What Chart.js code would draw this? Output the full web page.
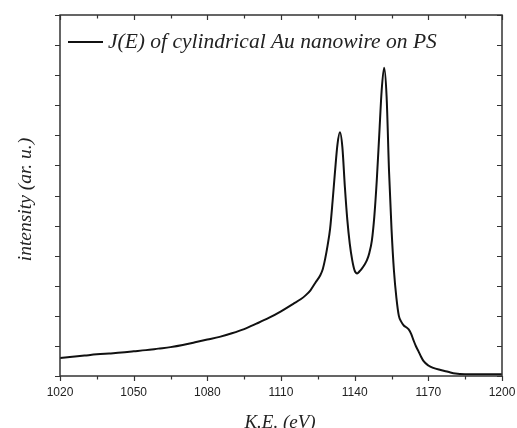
<!DOCTYPE html>
<html>
<head>
<meta charset="utf-8">
<script src="https://cdn.jsdelivr.net/npm/chart.js@4/dist/chart.umd.min.js"></script>
<style>
html,body{margin:0;padding:0;background:#fff;}
#wrap{width:517px;height:428px;position:relative;}
</style>
</head>
<body>
<div id="wrap"><canvas id="c" width="517" height="428"></canvas></div>
<script>
// Kinetic energy (eV)
const energy = [1020,1025,1030,1035,1040,1045,1050,1055,1060,1065,1070,1075,1080,1085,1090,1095,1100,1105,1110,1115,1118,1120,1122,1124,1126,1127,1128,1129,1130,1131,1132,1133,1134,1135,1136,1137,1138,1139,1140,1141,1142,1143,1144,1145,1146,1147,1148,1149,1150,1151,1152,1153,1154,1155,1156,1157,1158,1159,1160,1161,1162,1163,1164,1165,1166,1167,1168,1170,1172,1175,1178,1181,1185,1190,1195,1200];
// Intensity (arbitrary units)
const intensity = [0.60,0.64,0.68,0.72,0.75,0.78,0.82,0.86,0.91,0.96,1.03,1.12,1.21,1.30,1.42,1.56,1.74,1.93,2.15,2.40,2.55,2.68,2.85,3.10,3.35,3.55,3.90,4.35,4.90,5.80,6.80,7.70,8.10,7.60,6.30,5.20,4.40,3.85,3.50,3.41,3.48,3.58,3.70,3.85,4.10,4.50,5.30,6.50,8.00,9.50,10.25,9.30,6.80,4.90,3.50,2.60,2.00,1.80,1.68,1.62,1.55,1.40,1.18,0.98,0.82,0.65,0.50,0.35,0.27,0.20,0.14,0.08,0.06,0.06,0.06,0.06];
const seriesLabel = 'J(E) of cylindrical Au nanowire on PS';
const xTickLabels = [1020,1050,1080,1110,1140,1170,1200];
const xMinorTicks = [1035,1065,1095,1125,1155,1185];
const yTicks = [0,1,2,3,4,5,6,7,8,9,10,11,12];
const xTitle = 'K.E. (eV)';
const yTitle = 'intensity (ar. u.)';

const points = energy.map((e,i)=>({x:e,y:intensity[i]}));

const framePlugin = {
  id:'frame',
  afterDraw(chart){
    const ctx = chart.ctx, a = chart.chartArea;
    const xs = chart.scales.x, ys = chart.scales.y;
    ctx.save();
    ctx.strokeStyle = '#333';
    ctx.lineWidth = 1.5;
    ctx.strokeRect(a.left, a.top, a.right-a.left, a.bottom-a.top);
    ctx.lineWidth = 1.2;
    const tl = 5;
    ctx.beginPath();
    xTickLabels.forEach(v=>{
      const px = Math.round(xs.getPixelForValue(v))+0.5;
      ctx.moveTo(px,a.bottom); ctx.lineTo(px,a.bottom+tl);
      ctx.moveTo(px,a.top); ctx.lineTo(px,a.top+tl);
    });
    xMinorTicks.forEach(v=>{
      const px = Math.round(xs.getPixelForValue(v))+0.5;
      ctx.moveTo(px,a.bottom); ctx.lineTo(px,a.bottom+3.5);
      ctx.moveTo(px,a.top); ctx.lineTo(px,a.top+3.5);
    });
    yTicks.forEach(v=>{
      const py = Math.round(ys.getPixelForValue(v))+0.5;
      ctx.moveTo(a.left,py); ctx.lineTo(a.left-tl,py);
      ctx.moveTo(a.right,py); ctx.lineTo(a.right-tl,py);
    });
    ctx.stroke();
    // tick labels
    ctx.fillStyle = '#222';
    ctx.font = '12px "Liberation Sans", Arial, sans-serif';
    ctx.textAlign = 'center';
    ctx.textBaseline = 'middle';
    xTickLabels.forEach(v=>{
      ctx.fillText(String(v), xs.getPixelForValue(v), 393);
    });
    // axis titles
    ctx.fillStyle = '#222';
    ctx.font = 'italic 19px "Liberation Serif", "Times New Roman", serif';
    ctx.textBaseline = 'alphabetic';
    ctx.fillText(xTitle, (a.left+a.right)/2 - 1, 428);
    ctx.save();
    ctx.font = 'italic 19.5px "Liberation Serif", "Times New Roman", serif';
    ctx.translate(31, (a.top+a.bottom)/2 + 4);
    ctx.rotate(-Math.PI/2);
    ctx.fillText(yTitle, 0, 0);
    ctx.restore();
    // legend
    ctx.strokeStyle = '#111';
    ctx.lineWidth = 2;
    ctx.beginPath();
    ctx.moveTo(a.left+8, 42); ctx.lineTo(a.left+43, 42);
    ctx.stroke();
    ctx.font = 'italic 21.5px "Liberation Serif", "Times New Roman", serif';
    ctx.textAlign = 'left';
    ctx.textBaseline = 'alphabetic';
    ctx.fillText(chart.data.datasets[0].label, a.left+48, 48);
    ctx.restore();
  }
};

new Chart(document.getElementById('c'), {
  type:'line',
  data:{datasets:[{label:seriesLabel,data:points,borderColor:'#111',borderWidth:2,pointRadius:0,fill:false,cubicInterpolationMode:'monotone'}]},
  options:{
    responsive:false,
    animation:false,
    layout:{padding:{left:60,right:15,top:15,bottom:52}},
    plugins:{legend:{display:false},tooltip:{enabled:false}},
    scales:{
      x:{type:'linear',min:1020,max:1200,display:false},
      y:{type:'linear',min:0,max:12,display:false}
    }
  },
  plugins:[framePlugin]
});
</script>
</body>
</html>
